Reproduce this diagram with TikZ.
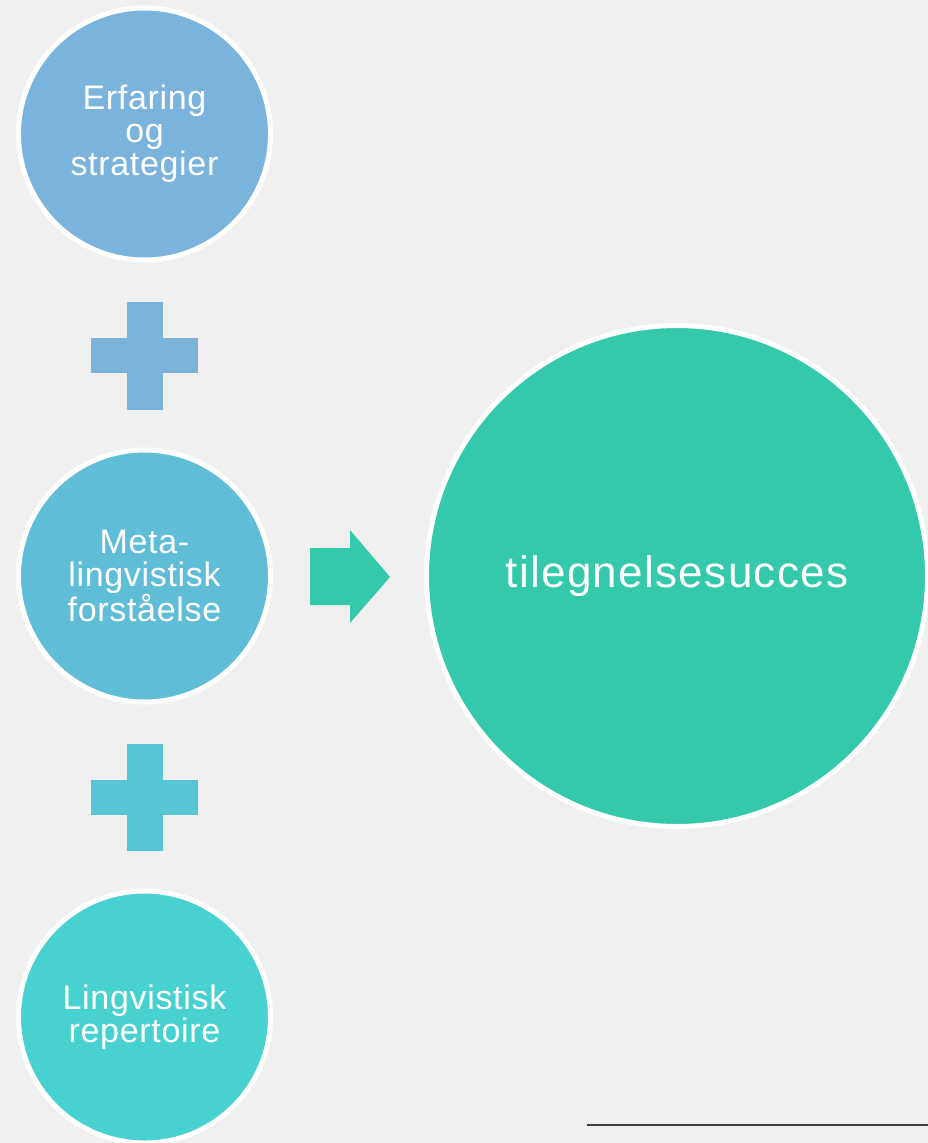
\documentclass[tikz,border=0pt]{standalone}
\usepackage{fontspec}
\setmainfont{Liberation Sans}
\newfontfamily\smallfont[LetterSpace=2]{Liberation Sans}
\newfontfamily\bigfont[LetterSpace=3]{Liberation Sans}
\definecolor{bgc}{HTML}{F0F0F0}
\definecolor{cone}{HTML}{7AB4DC}
\definecolor{ctwo}{HTML}{60BDD8}
\definecolor{cthree}{HTML}{48D1D1}
\definecolor{pone}{HTML}{7BB3DB}
\definecolor{ptwo}{HTML}{56C5D4}
\definecolor{cgreen}{HTML}{33C9AA}
\definecolor{rulec}{HTML}{404040}
\tikzset{
  bubble/.style={circle, draw=white, line width=5pt, inner sep=0pt, minimum size=252pt,
    text=white, align=center, font=\smallfont\fontsize{34}{33}\selectfont},
  bigbubble/.style={circle, draw=white, line width=5pt, inner sep=0pt, minimum size=501pt,
    text=white, align=center, font=\bigfont\fontsize{44}{44}\selectfont},
}
\begin{document}
\begin{tikzpicture}[x=1pt,y=-1pt]
\fill[bgc] (0,0) rectangle (928,1143);
\useasboundingbox (0,0) rectangle (928,1143);
% plus signs
\fill[pone] (91,338) rectangle (198,373);
\fill[pone] (127,302) rectangle (163,410);
\fill[ptwo] (91,780) rectangle (198,815);
\fill[ptwo] (127,744) rectangle (163,851);
% arrow
\fill[cgreen] (310,548) -- (350,548) -- (350,530) -- (390,577) -- (350,623) -- (350,605) -- (310,605) -- cycle;
% circles
\node[bubble, fill=cone] (erf) at (144.5,134) {Erfaring\\og\\strategier};
\node[bubble, fill=ctwo] (meta) at (144.5,576) {Meta-\\lingvistisk\\forståelse};
\node[bubble, fill=cthree] (ling) at (144.5,1017) {Lingvistisk\\repertoire};
\node[bigbubble, fill=cgreen] (succ) at (677,576) {tilegnelsesucces};
% rule
\coordinate (ra) at (587,1125);
\coordinate (rb) at (928,1125);
\draw[rulec, line width=1.2pt] (ra) -- (rb);
\end{tikzpicture}
\end{document}
